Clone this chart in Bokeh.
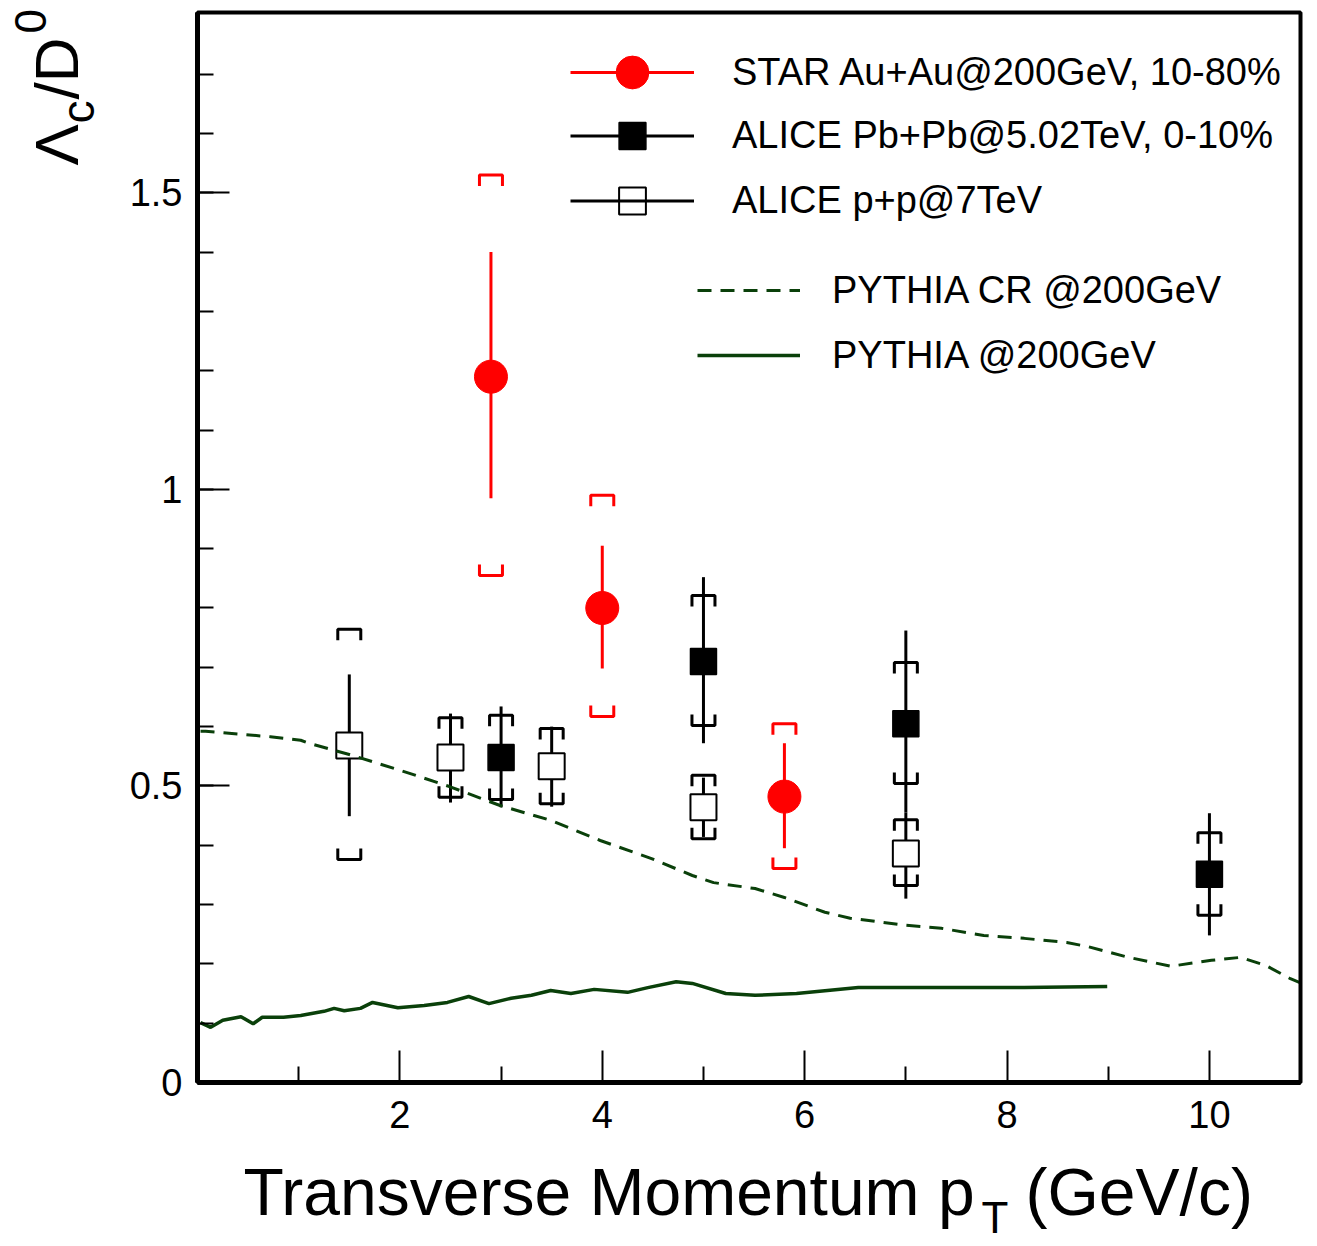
import numpy as np
from bokeh.plotting import figure
from bokeh.models import Range1d, FixedTicker, Label, Legend, LegendItem, NumeralTickFormatter, BoxAnnotation
from bokeh.embed import file_html
from bokeh.resources import INLINE
from bokeh.core.properties import value

# ---------------- data ----------------
star_pt = [2.9, 4.0, 5.8]
star_ratio = [1.19, 0.80, 0.482]
star_stat_lo = [0.985, 0.698, 0.395]
star_stat_hi = [1.40, 0.905, 0.572]
star_sys_lo = [0.855, 0.617, 0.361]
star_sys_hi = [1.530, 0.990, 0.605]

pbpb_pt = [3.0, 5.0, 7.0, 10.0]
pbpb_ratio = [0.548, 0.710, 0.605, 0.351]
pbpb_stat_lo = [0.464, 0.572, 0.455, 0.248]
pbpb_stat_hi = [0.634, 0.852, 0.762, 0.454]
pbpb_sys_lo = [0.477, 0.602, 0.504, 0.282]
pbpb_sys_hi = [0.619, 0.821, 0.708, 0.421]

pp_pt = [1.5, 2.5, 3.5, 5.0, 7.0]
pp_ratio = [0.568, 0.548, 0.533, 0.464, 0.386]
pp_stat_lo = [0.449, 0.472, 0.465, 0.414, 0.310]
pp_stat_hi = [0.688, 0.622, 0.600, 0.514, 0.455]
pp_sys_lo = [0.376, 0.481, 0.470, 0.411, 0.332]
pp_sys_hi = [0.764, 0.615, 0.597, 0.518, 0.443]

cr_pt = [0.03, 0.08, 0.72, 1.02, 1.10, 1.50, 2.01, 2.49, 2.99, 3.49, 3.98, 4.48, 4.89,
         5.10, 5.51, 5.80, 6.20, 6.45, 6.95, 7.35, 7.77, 8.17, 8.59, 8.80, 9.20,
         9.62, 10.02, 10.31, 10.56, 10.80, 10.9]
cr_ratio = [0.592, 0.592, 0.583, 0.577, 0.572, 0.553, 0.526, 0.499, 0.467, 0.442, 0.408,
            0.378, 0.349, 0.337, 0.327, 0.312, 0.287, 0.277, 0.266, 0.260, 0.248,
            0.243, 0.236, 0.229, 0.211, 0.196, 0.206, 0.211, 0.197, 0.175, 0.168]

py_pt = [0.03, 0.13, 0.25, 0.43, 0.55, 0.64, 0.85, 1.02, 1.25, 1.35, 1.45, 1.61, 1.73,
         1.98, 2.24, 2.47, 2.68, 2.88, 3.10, 3.30, 3.49, 3.69, 3.92, 4.25, 4.45,
         4.73, 4.89, 5.22, 5.51, 5.92, 6.53, 7.35, 8.17, 8.99]
py_ratio = [0.101, 0.093, 0.105, 0.111, 0.099, 0.110, 0.110, 0.113, 0.120, 0.125, 0.121,
            0.125, 0.135, 0.126, 0.130, 0.135, 0.145, 0.133, 0.142, 0.147, 0.155,
            0.150, 0.157, 0.152, 0.160, 0.170, 0.167, 0.150, 0.147, 0.150, 0.160,
            0.160, 0.160, 0.162]

x_ticks = [2, 4, 6, 8, 10]
x_minor = [1, 3, 5, 7, 9]
y_ticks = [0, 0.5, 1, 1.5]
y_minor = [round(0.1 * i, 1) for i in range(1, 18)]

labels = ["STAR Au+Au@200GeV, 10-80%", "ALICE Pb+Pb@5.02TeV, 0-10%", "ALICE p+p@7TeV",
          "PYTHIA CR @200GeV", "PYTHIA @200GeV"]

# ---------------- geometry ----------------
W, H = 1317, 1246                  # canvas
FL, FT, FR, FB = 197, 12, 1300, 1082   # plot box in canvas pixels
X0, X1, Y0, Y1 = 0.0, 10.9, 0.0, 1.804  # plot box in data units
XS = (FR - FL) / (X1 - X0)
YS = (FB - FT) / (Y1 - Y0)


def dx(px):
    return X0 + (px - FL) / XS


def dy(py):
    return Y0 + (FB - py) / YS


FONT = "Liberation Sans"
GREEN = "#0a400a"

p = figure(width=W, height=H, x_range=Range1d(dx(0), dx(W)), y_range=Range1d(dy(H), dy(0)),
           output_backend="svg", toolbar_location=None, min_border=0)
p.xgrid.visible = False
p.ygrid.visible = False
p.outline_line_color = None
p.background_fill_color = "white"
p.border_fill_color = "white"

for ax in (p.xaxis[0], p.yaxis[0]):
    ax.fixed_location = 0
    ax.axis_line_width = 5
    ax.axis_line_color = "black"
    ax.major_tick_in = 32
    ax.major_tick_out = 0
    ax.minor_tick_in = 16
    ax.minor_tick_out = 0
    ax.major_tick_line_width = 2
    ax.minor_tick_line_width = 2
    ax.major_label_text_font = FONT
    ax.major_label_text_font_size = "38px"
    ax.major_label_text_color = "black"
p.xaxis.bounds = (X0, X1)
p.yaxis.bounds = (Y0, Y1)
p.xaxis.ticker = FixedTicker(ticks=x_ticks, minor_ticks=x_minor)
p.yaxis.ticker = FixedTicker(ticks=y_ticks, minor_ticks=y_minor)
p.yaxis.formatter = NumeralTickFormatter(format="0.[0]")
p.xaxis.major_label_standoff = 18
p.yaxis.major_label_standoff = 15

# plot box outline
p.add_layout(BoxAnnotation(left=X0, right=X1, bottom=Y0, top=Y1, fill_alpha=0,
                           line_color="black", line_alpha=1.0, line_width=4))

# bracket geometry (style sizes in data units)
BX = 11.5 / XS
BY = 11.0 / YS


def brackets(x, lo, hi):
    xs, ys = [], []
    for xi, l, h in zip(x, lo, hi):
        xs.append([xi - BX, xi - BX, xi + BX, xi + BX])
        ys.append([h - BY, h, h, h - BY])
        xs.append([xi - BX, xi - BX, xi + BX, xi + BX])
        ys.append([l + BY, l, l, l + BY])
    return xs, ys


series = [
    (star_pt, star_ratio, star_stat_lo, star_stat_hi, star_sys_lo, star_sys_hi, "red"),
    (pbpb_pt, pbpb_ratio, pbpb_stat_lo, pbpb_stat_hi, pbpb_sys_lo, pbpb_sys_hi, "black"),
    (pp_pt, pp_ratio, pp_stat_lo, pp_stat_hi, pp_sys_lo, pp_sys_hi, "black"),
]
stat_r = []
for pt, r, slo, shi, ylo, yhi, col in series:
    seg = p.segment(x0=pt, y0=slo, x1=pt, y1=shi, line_color=col, line_width=3)
    stat_r.append(seg)
    bxs, bys = brackets(pt, ylo, yhi)
    p.multi_line(xs=bxs, ys=bys, line_color=col, line_width=3)

m_star = p.scatter(star_pt, star_ratio, marker="circle", size=33, fill_color="red", line_color="red")
m_pb = p.scatter(pbpb_pt, pbpb_ratio, marker="square", size=26, fill_color="black", line_color="black", line_width=1.5)
m_pp = p.scatter(pp_pt, pp_ratio, marker="square", size=26, fill_color="white", line_color="black", line_width=2)

l_cr = p.line(cr_pt, cr_ratio, line_color=GREEN, line_width=3, line_dash="14 9")
l_py = p.line(py_pt, py_ratio, line_color=GREEN, line_width=3.5)


# ---------------- legends ----------------
def add_legend(label, renderers, gx, gyc, gw, gh, standoff):
    leg = Legend(items=[LegendItem(label=value(label), renderers=renderers)],
                 location=(gx, H - gyc - gh / 2),
                 glyph_width=gw, glyph_height=gh, label_height=gh, label_standoff=standoff,
                 padding=0, margin=0, spacing=0, border_line_color=None,
                 background_fill_alpha=0, label_text_font=FONT, label_text_font_size="38px",
                 label_text_color="black")
    p.add_layout(leg)


add_legend(labels[0], [m_star, stat_r[0]], 570, 72, 124, 82, 38)
add_legend(labels[1], [m_pb, stat_r[1]], 570, 135, 124, 67, 38)
add_legend(labels[2], [m_pp, stat_r[2]], 570, 200, 124, 67, 38)
add_legend(labels[3], [l_cr], 697, 290, 103, 50, 32)
add_legend(labels[4], [l_py], 697, 355, 103, 50, 32)


# ---------------- axis titles (text pieces) ----------------
SHIFT = 0.39  # baseline correction, in em


def txt(px, py, s, size, rotated=False):
    if rotated:
        px = px - SHIFT * size
        ang = np.pi / 2
    else:
        py = py - SHIFT * size
        ang = 0.0
    p.add_layout(Label(x=dx(px), y=dy(py), text=s, text_font=FONT, text_font_size=f"{size}px",
                       text_align="left", text_baseline="alphabetic", angle=ang,
                       text_color="black"))


txt(243, 1217, "Transverse Momentum p", 66)
txt(981, 1234, "T", 44)
txt(1025, 1217, "(GeV/c)", 66)

txt(80, 165, "Λ", 62, True)
txt(95, 123, "c", 46, True)
txt(80, 99, "/D", 62, True)
txt(47, 33, "0", 44, True)

open("out.html", "w").write(file_html(p, INLINE))
